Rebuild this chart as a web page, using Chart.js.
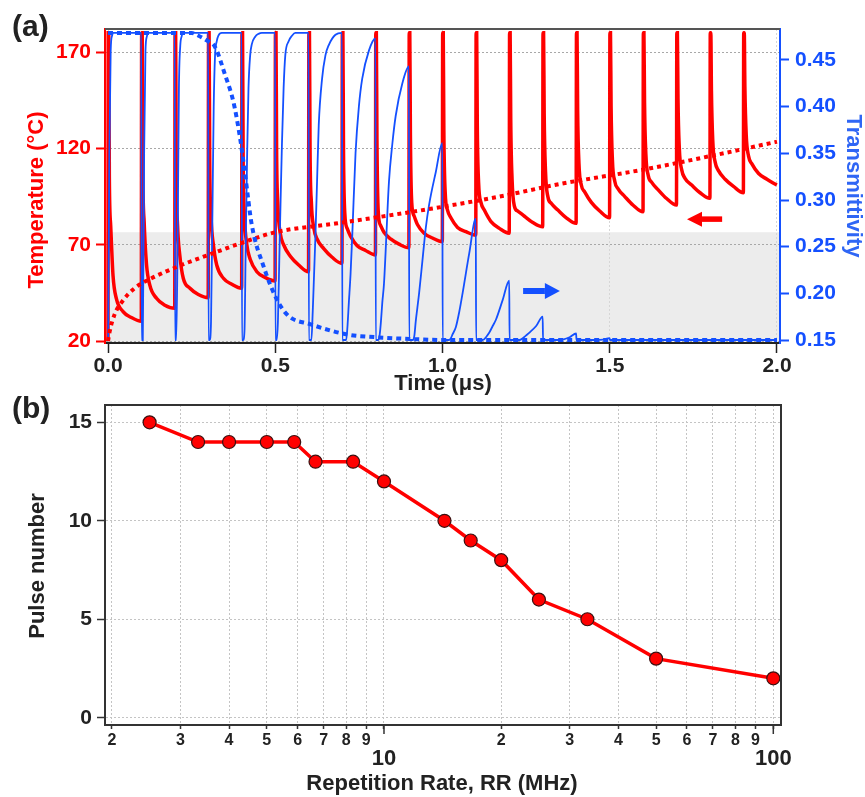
<!DOCTYPE html>
<html>
<head>
<meta charset="utf-8">
<script src="https://cdn.jsdelivr.net/npm/chart.js@4"></script>
<style>
  body { margin: 0; background: #fff; }
  #chartA { position: absolute; left: 0; top: 0; }
  #chartB { position: absolute; left: 0; top: 390px; }
</style>
</head>
<body>
<canvas id="chartA" width="865" height="400"></canvas>
<canvas id="chartB" width="865" height="407"></canvas>
<script>
// ---- (a) temperature / transmittivity vs time ----
var pulseTimes = [0, 0.1, 0.2, 0.3, 0.4, 0.5, 0.6, 0.7, 0.8, 0.9, 1.0, 1.1, 1.2, 1.3, 1.4, 1.5, 1.6, 1.7, 1.8, 1.9];

// temperature after each pulse, read at these offsets (us) from the pulse
var tempStart = 20;
var tempOffsets = [0.0005, 0.0022, 0.004, 0.008, 0.015, 0.025, 0.045, 0.07, 0.0995];
var tempPulses = [
    [180, 180, 105, 80, 54, 42, 35.3, 32.2, 30.3],
    [180, 180, 110, 82, 60, 49, 42.2, 38.6, 37],
    [180, 180, 110, 80, 64, 52.6, 47.4, 44.2, 42.5],
    [180, 180, 115, 85, 70, 59.5, 52.6, 49.5, 47.4],
    [180, 180, 115, 85, 70, 62.5, 56, 53, 51.2],
    [180, 180, 120, 90, 76, 70, 64, 59.5, 56],
    [180, 180, 120, 92, 79, 73, 68, 63.5, 60.3],
    [180, 180, 120, 86, 78.5, 74.5, 69.5, 67, 64.7],
    [180, 180, 125, 87, 80, 76.5, 73, 70.3, 68.4],
    [180, 180, 128, 92, 85, 80.5, 76, 73.5, 71.6],
    [180, 180, 130, 97.5, 88, 84, 79, 76.8, 75],
    [180, 180, 132, 102, 92, 88, 82, 78.5, 76],
    [180, 180, 135, 104, 90, 87.5, 84.8, 81.5, 79.3],
    [180, 180, 138, 108, 95, 91.5, 88, 84, 81.1],
    [180, 180, 140, 112, 101, 97.5, 92, 87.5, 84],
    [180, 180, 142, 114, 103, 99, 95, 90.5, 87.1],
    [180, 180, 144, 117, 106, 102.5, 98.5, 94, 90.6],
    [180, 180, 146, 120, 109, 104.5, 101, 97, 94.1],
    [180, 180, 150, 124, 113, 108.5, 104, 100.3, 97],
    [180, 180, 152, 127, 116, 112, 107, 104, 101]
];

// transmittivity recovery after each pulse
var transOffsets = [0.0005, 0.004, 0.008, 0.012, 0.016, 0.02, 0.025, 0.03, 0.04, 0.05, 0.06, 0.08, 0.0995];
var transPulses = [
    [0.15, 0.35, 0.46, 0.476, 0.479, 0.479, 0.479, 0.479, 0.479, 0.479, 0.479, 0.479, 0.479],
    [0.15, 0.15, 0.35, 0.46, 0.475, 0.479, 0.479, 0.479, 0.479, 0.479, 0.479, 0.479, 0.479],
    [0.15, 0.15, 0.25, 0.42, 0.465, 0.475, 0.479, 0.479, 0.479, 0.479, 0.479, 0.479, 0.479],
    [0.15, 0.15, 0.17, 0.28, 0.40, 0.455, 0.47, 0.476, 0.479, 0.479, 0.479, 0.479, 0.479],
    [0.15, 0.15, 0.16, 0.26, 0.35, 0.42, 0.455, 0.467, 0.475, 0.478, 0.479, 0.479, 0.479],
    [0.15, 0.15, 0.17, 0.235, 0.30, 0.36, 0.42, 0.455, 0.47, 0.476, 0.479, 0.479, 0.479],
    [0.15, 0.15, 0.15, 0.18, 0.22, 0.26, 0.32, 0.38, 0.43, 0.455, 0.466, 0.477, 0.479],
    [0.15, 0.15, 0.15, 0.15, 0.165, 0.19, 0.22, 0.26, 0.35, 0.40, 0.43, 0.46, 0.473],
    [0.15, 0.15, 0.15, 0.155, 0.17, 0.19, 0.21, 0.245, 0.32, 0.36, 0.39, 0.425, 0.443],
    [0.15, 0.15, 0.15, 0.15, 0.155, 0.17, 0.185, 0.2, 0.235, 0.27, 0.295, 0.33, 0.361],
    [0.15, 0.15, 0.15, 0.15, 0.15, 0.15, 0.152, 0.156, 0.164, 0.18, 0.2, 0.243, 0.28],
    [0.15, 0.15, 0.15, 0.15, 0.15, 0.15, 0.151, 0.153, 0.158, 0.165, 0.172, 0.193, 0.2135],
    [0.15, 0.15, 0.15, 0.15, 0.15, 0.15, 0.15, 0.15, 0.152, 0.155, 0.158, 0.165, 0.175],
    [0.15, 0.15, 0.15, 0.15, 0.15, 0.15, 0.15, 0.15, 0.15, 0.15, 0.1505, 0.153, 0.157],
    [0.15, 0.15, 0.15, 0.15, 0.15, 0.15, 0.15, 0.15, 0.15, 0.15, 0.15, 0.1505, 0.152]
];
var transTailTimes = [1.5005, 2.0];
var transTailValues = [0.15, 0.15];

// averaged curves (dotted)
var avgTempTimes = [0, 0.005, 0.02, 0.04, 0.08, 0.13, 0.22, 0.32, 0.4, 0.5, 0.68, 0.88, 1.0, 1.17, 1.35, 1.6, 1.8, 2.0];
var avgTempValues = [20, 25, 34, 40, 47.5, 52.6, 59.5, 66, 71, 76.5, 81, 86.3, 89.7, 95, 101.5, 109, 116, 123.5];
var avgTransTimes = [0, 0.25, 0.265, 0.295, 0.32, 0.35, 0.375, 0.395, 0.41, 0.43, 0.464, 0.504, 0.539, 0.604, 0.714, 0.8, 0.91, 1.0, 2.0];
var avgTransValues = [0.479, 0.479, 0.477, 0.471, 0.464, 0.434, 0.405, 0.366, 0.327, 0.273, 0.23, 0.194, 0.176, 0.167, 0.156, 0.153, 0.151, 0.15, 0.15];

var shadeTemp = 76.5;  // top of grey band
var timeTicks = [0, 0.5, 1.0, 1.5, 2.0];
var tempTicks = [20, 70, 120, 170];
var transTicks = [0.15, 0.20, 0.25, 0.30, 0.35, 0.40, 0.45];

// ---- (b) pulse number vs repetition rate ----
var repRate = [2.5, 3.33, 4, 5, 5.88, 6.67, 8.33, 10, 14.3, 16.7, 20, 25, 33.3, 50, 100];
var pulseNumber = [15, 14, 14, 14, 14, 13, 13, 12, 10, 9, 8, 6, 5, 3, 2];
var rateTicks = [2, 3, 4, 5, 6, 7, 8, 9, 10, 20, 30, 40, 50, 60, 70, 80, 90, 100];
var rateMajor = [10, 100];
var pulseTicks = [0, 5, 10, 15];

var FONT = "'Liberation Sans', Arial, sans-serif";
var RED = '#ff0000';
var BLUE = '#1450ff';
var INK = '#222222';

function zip(xs, ys) {
    return xs.map(function (x, i) { return {x: x, y: ys[i]}; });
}

var tempPoints = [{x: 0, y: tempStart}];
pulseTimes.forEach(function (t0, k) {
    tempOffsets.forEach(function (dt, i) {
        tempPoints.push({x: t0 + dt, y: tempPulses[k][i]});
    });
});

var transPoints = [];
transPulses.forEach(function (vals, k) {
    transOffsets.forEach(function (dt, i) {
        transPoints.push({x: pulseTimes[k] + dt, y: vals[i]});
    });
});
transPoints = transPoints.concat(zip(transTailTimes, transTailValues));

function fixedTicks(values, majors) {
    return function (scale) {
        scale.ticks = values.map(function (v) {
            return {value: v, major: !!(majors && majors.indexOf(v) >= 0)};
        });
    };
}

function txt(ctx, s, x, y, font, color, rot, align) {
    ctx.save();
    ctx.translate(x, y);
    if (rot) ctx.rotate(rot);
    ctx.font = font;
    ctx.fillStyle = color;
    ctx.textAlign = align || 'center';
    ctx.textBaseline = 'middle';
    ctx.fillText(s, 0, 0);
    ctx.restore();
}

function arrow(ctx, tail, head, y, color, shaft, headLen, headHalf) {
    var dir = head > tail ? 1 : -1;
    var base = head - dir * headLen;
    ctx.save();
    ctx.fillStyle = color;
    ctx.fillRect(Math.min(tail, base), y - shaft / 2, Math.abs(base - tail), shaft);
    ctx.beginPath();
    ctx.moveTo(head, y);
    ctx.lineTo(base, y - headHalf);
    ctx.lineTo(base, y + headHalf);
    ctx.closePath();
    ctx.fill();
    ctx.restore();
}

var tickFont = {family: FONT, size: 21, weight: 'bold'};

var decorA = {
    id: 'decorA',
    beforeDraw: function (chart) {
        var a = chart.chartArea, ctx = chart.ctx;
        var yTop = chart.scales.y.getPixelForValue(shadeTemp);
        ctx.save();
        ctx.fillStyle = '#ececec';
        ctx.fillRect(a.left, yTop, a.right - a.left, a.bottom - yTop);
        ctx.restore();
    },
    afterDraw: function (chart) {
        var a = chart.chartArea, ctx = chart.ctx;
        var sx = chart.scales.x, sy = chart.scales.y, sy1 = chart.scales.y1;
        ctx.save();
        ctx.strokeStyle = '#555';
        ctx.lineWidth = 2;
        ctx.beginPath();
        ctx.moveTo(a.left, a.top);
        ctx.lineTo(a.right, a.top);
        ctx.stroke();
        ctx.restore();
        arrow(ctx, sx.getPixelForValue(1.836), sx.getPixelForValue(1.731), sy.getPixelForValue(83.3), RED, 5.5, 15, 7.5);
        arrow(ctx, sx.getPixelForValue(1.241), sx.getPixelForValue(1.351), sy1.getPixelForValue(0.2025), BLUE, 6, 15, 8);
        txt(ctx, 'Temperature (°C)', 37, 200, 'bold 22px ' + FONT, RED, -Math.PI / 2);
        txt(ctx, 'Transmittivity', 853, 186, 'bold 22px ' + FONT, '#2f66f5', Math.PI / 2);
        txt(ctx, 'Time (μs)', 443, 384, 'bold 22px ' + FONT, INK, 0);
        txt(ctx, '(a)', 12, 28, 'bold 30px ' + FONT, INK, 0, 'left');
    }
};

new Chart(document.getElementById('chartA').getContext('2d'), {
    type: 'line',
    data: {
        datasets: [{
            label: 'Average transmittivity',
            data: zip(avgTransTimes, avgTransValues),
            yAxisID: 'y1',
            borderColor: BLUE,
            borderWidth: 4,
            borderDash: [5, 4],
            pointRadius: 0,
            cubicInterpolationMode: 'monotone',
            order: 0
        }, {
            label: 'Average temperature',
            data: zip(avgTempTimes, avgTempValues),
            yAxisID: 'y',
            borderColor: RED,
            borderWidth: 4,
            borderDash: [4, 4],
            pointRadius: 0,
            cubicInterpolationMode: 'monotone',
            order: 1
        }, {
            label: 'Transmittivity',
            data: transPoints,
            yAxisID: 'y1',
            borderColor: BLUE,
            borderWidth: 1.8,
            pointRadius: 0,
            cubicInterpolationMode: 'monotone',
            order: 2
        }, {
            label: 'Temperature',
            data: tempPoints,
            yAxisID: 'y',
            borderColor: RED,
            borderWidth: 3.5,
            pointRadius: 0,
            cubicInterpolationMode: 'monotone',
            order: 3
        }]
    },
    options: {
        responsive: false,
        animation: false,
        layout: {padding: {top: 29, left: 0, right: 0, bottom: 0}},
        plugins: {legend: {display: false}, tooltip: {enabled: false}},
        scales: {
            x: {
                type: 'linear',
                min: -0.009,
                max: 2.009,
                afterBuildTicks: fixedTicks(timeTicks),
                afterFit: function (s) { s.height = 57; s.paddingLeft = 0; s.paddingRight = 0; },
                grid: {color: '#d6d6d6', tickColor: INK, tickLength: 10, tickWidth: 1.5},
                border: {color: INK, width: 2, dash: [2, 2]},
                ticks: {
                    color: INK, font: tickFont, padding: 1, maxRotation: 0, autoSkip: false,
                    callback: function (v) { return Number(v).toFixed(1); }
                }
            },
            y: {
                position: 'left',
                min: 19,
                max: 182,
                afterBuildTicks: fixedTicks(tempTicks),
                afterFit: function (s) { s.width = 105; s.paddingTop = 0; s.paddingBottom = 0; },
                grid: {color: '#a8a8a8', tickColor: RED, tickLength: 9, tickWidth: 2},
                border: {color: RED, width: 2, dash: [2, 2]},
                ticks: {color: RED, font: tickFont, padding: 5}
            },
            y1: {
                position: 'right',
                min: 0.1468,
                max: 0.4832,
                afterBuildTicks: fixedTicks(transTicks),
                afterFit: function (s) { s.width = 85; s.paddingTop = 0; s.paddingBottom = 0; },
                grid: {drawOnChartArea: false, tickColor: BLUE, tickLength: 9, tickWidth: 2},
                border: {color: BLUE, width: 2},
                ticks: {
                    color: BLUE, font: tickFont, padding: 6,
                    callback: function (v) { return Number(v).toFixed(2); }
                }
            }
        }
    },
    plugins: [decorA]
});

var decorB = {
    id: 'decorB',
    afterDraw: function (chart) {
        var a = chart.chartArea, ctx = chart.ctx, sx = chart.scales.x;
        ctx.save();
        ctx.strokeStyle = '#333';
        ctx.lineWidth = 2;
        ctx.beginPath();
        ctx.moveTo(a.left, a.top);
        ctx.lineTo(a.right, a.top);
        ctx.lineTo(a.right, a.bottom);
        ctx.stroke();
        ctx.lineWidth = 1.5;
        rateMajor.forEach(function (v) {
            var px = sx.getPixelForValue(v);
            ctx.beginPath();
            ctx.moveTo(px, a.bottom);
            ctx.lineTo(px, a.bottom + 9);
            ctx.stroke();
        });
        ctx.restore();
        txt(ctx, 'Pulse number', 38, 176, 'bold 22px ' + FONT, INK, -Math.PI / 2);
        txt(ctx, 'Repetition Rate, RR (MHz)', 442, 394, 'bold 22px ' + FONT, INK, 0);
        txt(ctx, '(b)', 12, 20, 'bold 30px ' + FONT, INK, 0, 'left');
    }
};

new Chart(document.getElementById('chartB').getContext('2d'), {
    type: 'line',
    data: {
        datasets: [{
            label: 'Pulse number',
            data: zip(repRate, pulseNumber),
            borderColor: RED,
            borderWidth: 3.5,
            pointRadius: 6.5,
            pointBackgroundColor: RED,
            pointBorderColor: '#3a1010',
            pointBorderWidth: 1.2
        }]
    },
    options: {
        responsive: false,
        animation: false,
        layout: {padding: {top: 15, left: 0, right: 84, bottom: 0}},
        plugins: {legend: {display: false}, tooltip: {enabled: false}},
        scales: {
            x: {
                type: 'logarithmic',
                min: 1.9203,
                max: 104.66,
                afterBuildTicks: fixedTicks(rateTicks, rateMajor),
                afterFit: function (s) { s.height = 72; s.paddingLeft = 0; s.paddingRight = 0; },
                grid: {color: '#c4c4c4', tickColor: '#333', tickLength: 4, tickWidth: 1.5},
                border: {color: '#333', width: 2, dash: [2, 2]},
                ticks: {
                    color: INK, padding: 2, maxRotation: 0, autoSkip: false,
                    font: function (c) {
                        return c.tick && c.tick.major
                            ? {family: FONT, size: 22, weight: 'bold', lineHeight: 0.85}
                            : {family: FONT, size: 16, weight: 'bold', lineHeight: 1.2};
                    },
                    callback: function (v, i, ticks) {
                        if (ticks[i].major) return ['', String(v)];
                        var decade = Math.pow(10, Math.floor(Math.log10(v) + 1e-9));
                        return String(Math.round(v / decade));
                    }
                }
            },
            y: {
                min: -0.37,
                max: 15.88,
                afterBuildTicks: fixedTicks(pulseTicks),
                afterFit: function (s) { s.width = 105; s.paddingTop = 0; s.paddingBottom = 0; },
                grid: {color: '#c4c4c4', tickColor: '#333', tickLength: 8, tickWidth: 1.5},
                border: {color: '#333', width: 2, dash: [2, 2]},
                ticks: {color: INK, font: tickFont, padding: 5}
            }
        }
    },
    plugins: [decorB]
});
</script>
</body>
</html>
